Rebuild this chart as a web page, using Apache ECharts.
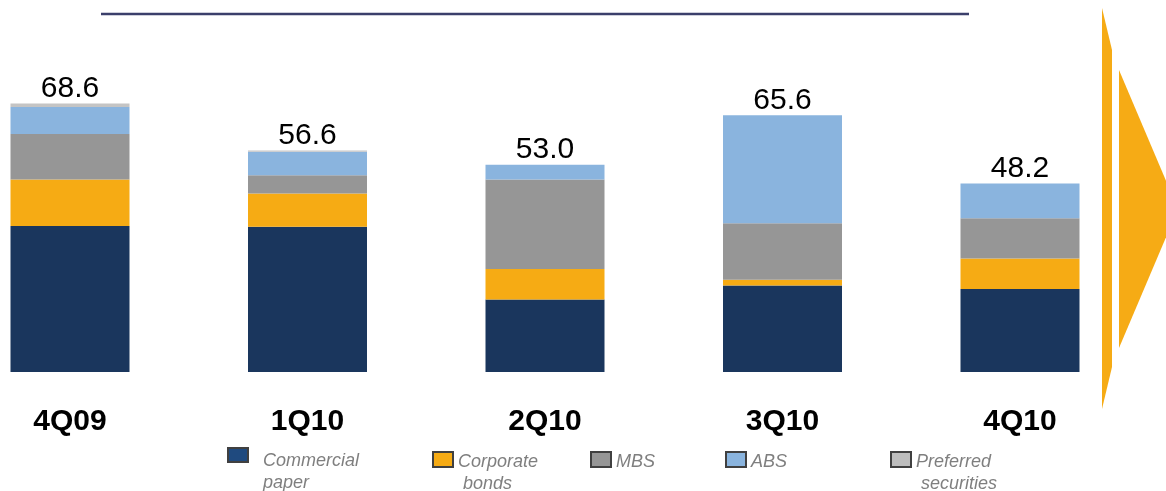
<!DOCTYPE html>
<html>
<head>
<meta charset="utf-8">
<script src="https://cdn.jsdelivr.net/npm/echarts@6/dist/echarts.min.js"></script>
<style>
html,body{margin:0;padding:0;background:#fff;}
#chart{width:1166px;height:491px;}
</style>
</head>
<body>
<div id="chart"></div>
<script>
const categories = ['4Q09', '1Q10', '2Q10', '3Q10', '4Q10'];
const commercialPaper = [37.3, 37.1, 18.5, 22.1, 21.2];
const corporateBonds = [11.9, 8.5, 7.8, 1.5, 7.8];
const mbs = [11.6, 4.7, 22.9, 14.4, 10.3];
const abs = [6.9, 6.0, 3.8, 27.6, 8.9];
const preferredSecurities = [0.9, 0.3, 0, 0, 0];
const totals = [68.6, 56.6, 53.0, 65.6, 48.2];
const seriesNames = ['Commercial paper', 'Corporate bonds', 'MBS', 'ABS', 'Preferred securities'];
const legendLines = [['Commercial', 'paper'], ['Corporate', ' bonds'], ['MBS'], ['ABS'], ['Preferred', ' securities']];

const FONT = '"Liberation Sans", Arial, sans-serif';
const colors = ['#1A365D', '#F6AB14', '#969696', '#8AB4DE', '#C4C4C4'];
const legendColors = ['#1F4A7F', '#F6AB14', '#969696', '#8AB4DE', '#BDBDBD'];
const seriesData = [commercialPaper, corporateBonds, mbs, abs, preferredSecurities];

const series = seriesData.map((d, i) => {
  const s = {
    name: seriesNames[i],
    type: 'bar',
    stack: 'total',
    barWidth: 119,
    data: d,
    itemStyle: { color: colors[i] },
    emphasis: { disabled: true }
  };
  if (i === seriesData.length - 1) {
    s.label = {
      show: true,
      position: 'top',
      distance: 0,
      color: '#000',
      fontSize: 30,
      fontFamily: FONT,
      formatter: p => totals[p.dataIndex].toFixed(1)
    };
  }
  return s;
});

// legend layout
const legendPos = [
  { left: 227, top: 432, w: 20, h: 14, sp: 34, padL: 10 },
  { left: 432, top: 436.5, w: 20, h: 15, sp: 26, padL: 0 },
  { left: 590, top: 436.5, w: 20, h: 15, sp: 26, padL: 0 },
  { left: 725, top: 436.5, w: 20, h: 15, sp: 26, padL: 0 },
  { left: 890, top: 436.5, w: 20, h: 15, sp: 26, padL: 0 }
];
const legends = seriesNames.map((n, i) => {
  const lines = legendLines[i].slice();
  while (lines.length < 2) lines.push(' ');
  return {
    show: true,
    data: [{ name: n, itemStyle: { color: legendColors[i] } }],
    left: legendPos[i].left,
    top: legendPos[i].top,
    padding: 0,
    icon: 'rect',
    itemWidth: legendPos[i].w,
    itemHeight: legendPos[i].h,
    itemStyle: { borderColor: '#404040', borderWidth: 2 },
    selectedMode: false,
    formatter: () => '{s| }\n' + lines.map(l => '{t|' + l + '}').join('\n'),
    textStyle: {
      fontFamily: FONT,
      padding: [0, 0, 0, legendPos[i].padL],
      rich: {
        s: { fontSize: 2, lineHeight: legendPos[i].sp },
        t: {
          fontFamily: FONT,
          fontStyle: 'italic',
          fontSize: 18,
          lineHeight: 22,
          color: '#7F7F7F'
        }
      }
    }
  };
});

const chart = echarts.init(document.getElementById('chart'), null, { renderer: 'canvas' });
chart.setOption({
  animation: false,
  backgroundColor: '#fff',
  grid: { left: 70, width: 950, top: 59, height: 313, containLabel: false },
  xAxis: {
    type: 'category',
    data: categories,
    boundaryGap: false,
    axisLine: { show: false },
    axisTick: { show: false },
    splitLine: { show: false },
    axisLabel: {
      color: '#000',
      fontSize: 30,
      fontWeight: 'bold',
      fontFamily: FONT,
      margin: 35
    }
  },
  yAxis: {
    type: 'value',
    min: 0,
    max: 80,
    show: false,
    splitLine: { show: false }
  },
  legend: legends,
  series: series,
  graphic: [
    {
      type: 'line',
      shape: { x1: 101, y1: 14, x2: 969, y2: 14 },
      style: { stroke: '#3B3F6B', lineWidth: 2.5 }
    },
    {
      type: 'polygon',
      shape: { points: [[1102, 8], [1112, 50], [1112, 367], [1102, 409]] },
      style: { fill: '#F6AB15' }
    },
    {
      type: 'polygon',
      shape: { points: [[1119, 70], [1178, 209], [1119, 348]] },
      style: { fill: '#F6AB15' }
    }
  ]
});
</script>
</body>
</html>
